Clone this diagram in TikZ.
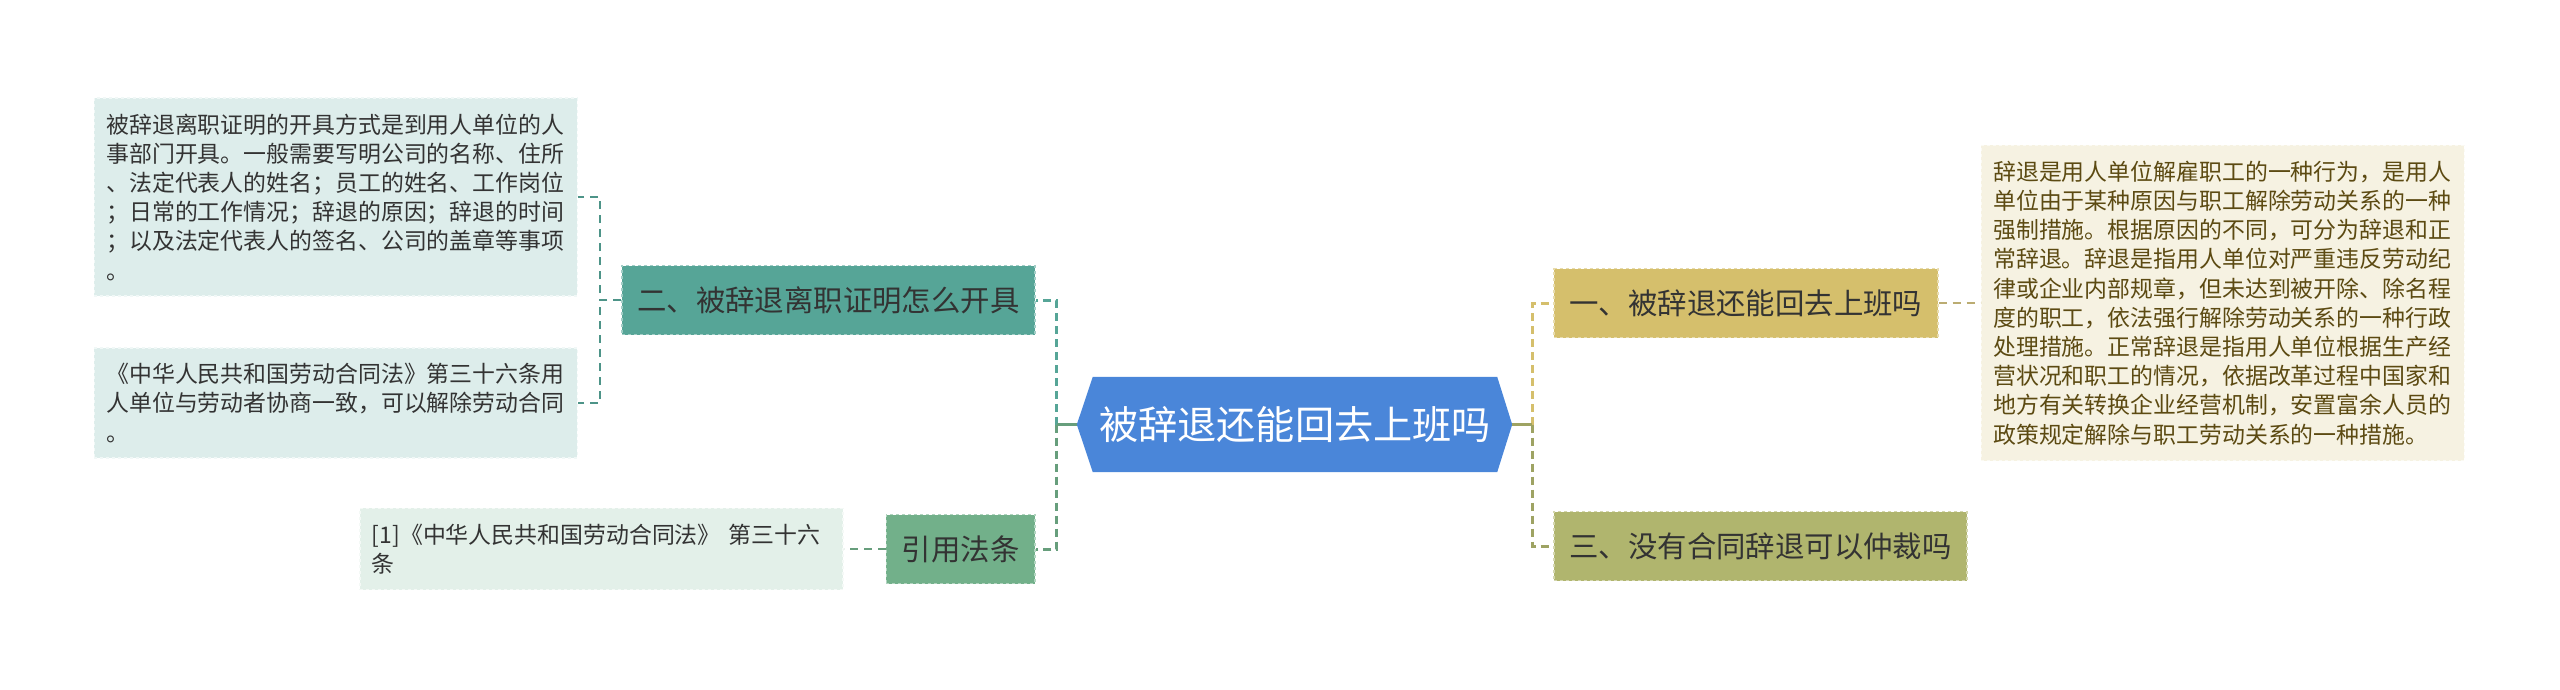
\documentclass[tikz,border=0pt]{standalone}
\usepackage{fontspec}
\usepackage{xcolor}
\usepackage{tikz}
\usetikzlibrary{positioning,backgrounds,calc}
\newfontfamily\cjk{Noto Sans CJK SC}
\definecolor{mmBlue}{HTML}{4A86D9}
\definecolor{mmTeal}{HTML}{56A597}
\definecolor{mmTealL}{HTML}{DDEDEB}
\definecolor{mmGreen}{HTML}{72B08A}
\definecolor{mmGreenL}{HTML}{E3F0E9}
\definecolor{mmGold}{HTML}{D5BF6C}
\definecolor{mmGoldL}{HTML}{F6F2E2}
\definecolor{mmOlive}{HTML}{B0B56E}
\definecolor{mmInk}{HTML}{333333}
\definecolor{mmBrown}{HTML}{5C4A12}
\tikzset{
  mm-root/.style={
    text=white, font=\cjk\fontsize{39.2}{47}\selectfont,
    text width=392pt, align=center,
    minimum height=95pt, minimum width=404pt, inner xsep=6pt, inner ysep=0pt
  },
  mm-branch/.style={
    draw=#1!55!white, dashed, line width=1.5pt, fill=#1,
    font=\cjk\fontsize{29.4}{35}\selectfont, text=mmInk,
    inner xsep=15.5pt, inner ysep=0pt, minimum height=69pt
  },
  mm-leaf/.style={
    draw=#1!40!white, dashed, line width=1.5pt, fill=#1,
    font=\cjk\fontsize{22.9}{29.2}\selectfont, text=mmInk,
    align=left, text width=459pt, inner xsep=12pt, inner ysep=15.5pt
  },
  mm-link/.style={line width=3pt, dash pattern=on 8pt off 5pt, draw=#1},
  mm-sublink/.style={line width=2pt, dash pattern=on 8pt off 6pt, draw=#1},
  mm-stub/.style={line width=3pt, draw=#1}
}
\begin{document}
\begin{tikzpicture}[x=1pt, y=1pt]
\useasboundingbox (0,0) rectangle (2560,-689);
% --- Centre ---
\node[mm-root] (root) at (1295,-424.5) {被辞退还能回去上班吗};
\coordinate (ltip) at ([xshift=-16pt]root.west);
\coordinate (rtip) at ([xshift=15pt]root.east);
\coordinate (lhub) at ([xshift=-20pt]ltip);
\coordinate (rhub) at ([xshift=20pt]rtip);
\begin{scope}[on background layer]
  \fill[mmBlue] (root.north west) -- (root.north east) -- (rtip)
    -- (root.south east) -- (root.south west) -- (ltip) -- cycle;
\end{scope}

% --- Gauche ---
\node[mm-branch=mmTeal, left=57pt of root, yshift=124.5pt] (howto)
  {二、被辞退离职证明怎么开具};
\node[mm-branch=mmGreen, left=57pt of root, yshift=-124.5pt] (refs)
  {引用法条};
\node[mm-leaf=mmTealL, left=43pt of howto, yshift=103pt] (howtoA)
  {被辞退离职证明的开具方式是到用人单位的人\\
  事部门开具。一般需要写明公司的名称、住所\\
  、法定代表人的姓名；员工的姓名、工作岗位\\
  ；日常的工作情况；辞退的原因；辞退的时间\\
  ；以及法定代表人的签名、公司的盖章等事项\\
  。};
\node[mm-leaf=mmTealL, left=43pt of howto, yshift=-103pt] (howtoB)
  {《中华人民共和国劳动合同法》第三十六条用\\
  人单位与劳动者协商一致，可以解除劳动合同\\
  。};
\node[mm-leaf=mmGreenL, left=42pt of refs] (refsA)
  {[1]《中华人民共和国劳动合同法》 第三十六\\
  条};

% --- Droite ---
\node[mm-branch=mmGold, right=56pt of root, yshift=121.5pt] (back)
  {一、被辞退还能回去上班吗};
\node[mm-branch=mmOlive, right=56pt of root, yshift=-121.5pt] (arbit)
  {三、没有合同辞退可以仲裁吗};
\node[mm-leaf=mmGoldL, text=mmBrown, right=42pt of back] (backA)
  {辞退是用人单位解雇职工的一种行为，是用人\\
  单位由于某种原因与职工解除劳动关系的一种\\
  强制措施。根据原因的不同，可分为辞退和正\\
  常辞退。辞退是指用人单位对严重违反劳动纪\\
  律或企业内部规章，但未达到被开除、除名程\\
  度的职工，依法强行解除劳动关系的一种行政\\
  处理措施。正常辞退是指用人单位根据生产经\\
  营状况和职工的情况，依据改革过程中国家和\\
  地方有关转换企业经营机制，安置富余人员的\\
  政策规定解除与职工劳动关系的一种措施。};

% --- Liens ---
\draw[mm-link=mmTeal] (lhub) |- (howto.east);
\draw[mm-link=mmGreen!90!black] (lhub) |- (refs.east);
\draw[mm-link=mmGold] (rhub) |- (back.west);
\draw[mm-link=mmOlive!90!black] (rhub) |- (arbit.west);
\draw[mm-stub=mmGreen!90!black] (ltip) -- (lhub);
\draw[mm-stub=mmOlive!90!black] (rtip) -- (rhub);
\draw[mm-sublink=mmTeal!90!black] (howto.west) -- ++(-21pt,0) |- (howtoA.east);
\draw[mm-sublink=mmTeal!90!black] (howto.west) -- ++(-21pt,0) |- (howtoB.east);
\draw[mm-sublink=mmGreen!90!black] (refs.west) -- (refsA.east);
\draw[mm-sublink=mmGold!70!gray] (back.east) -- (backA.west);
\end{tikzpicture}
\end{document}
